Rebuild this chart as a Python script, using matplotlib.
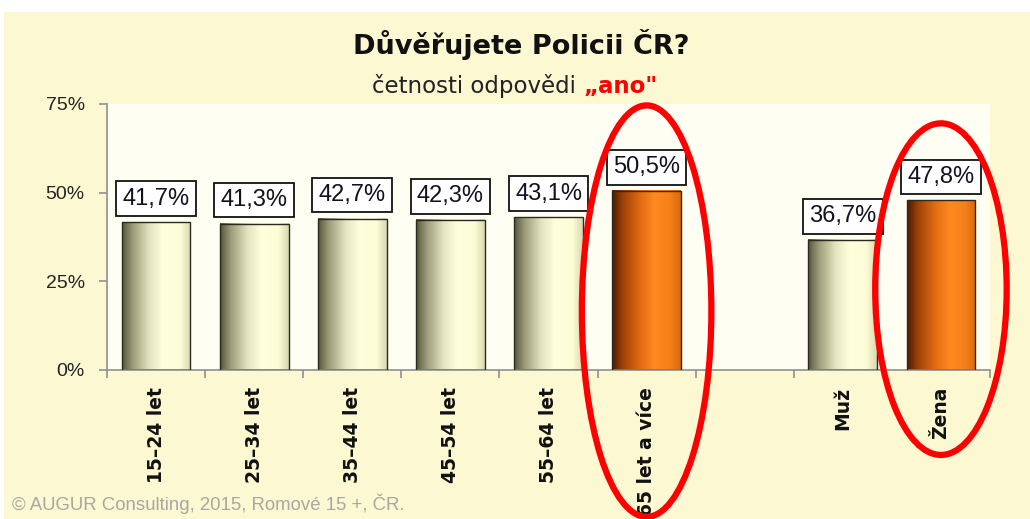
import matplotlib
matplotlib.use("Agg")
import matplotlib.pyplot as plt
import numpy as np
from matplotlib.patches import Rectangle, Ellipse
from matplotlib.colors import LinearSegmentedColormap

categories = ["15–24 let", "25–34 let", "35–44 let", "45–54 let", "55–64 let",
              "65 let a více", "Muž", "Žena"]
values = [41.7, 41.3, 42.7, 42.3, 43.1, 50.5, 36.7, 47.8]
positions = [0, 1, 2, 3, 4, 5, 7, 8]
highlight = [False, False, False, False, False, True, False, True]
labels = ["41,7%", "41,3%", "42,7%", "42,3%", "43,1%", "50,5%", "36,7%", "47,8%"]
yticks = [0, 25, 50, 75]

plt.rcParams["font.family"] = ["Liberation Sans", "DejaVu Sans"]

fig = plt.figure(figsize=(10.30, 5.19), dpi=100)
fig.patch.set_facecolor("white")
fig.patches.append(Rectangle((4 / 1030, 0), 1, (519 - 12) / 519, transform=fig.transFigure,
                             facecolor="#FCF8D2", edgecolor="none", zorder=-10))

ax = fig.add_axes([107 / 1030, (519 - 370) / 519, (990 - 107) / 1030, (370 - 104) / 519])
ax.set_facecolor("#FFFEF3")

light = LinearSegmentedColormap.from_list("light", [
    (0.0, "#55553c"), (0.15, "#9a9a78"), (0.4, "#e4e4be"), (0.6, "#ffffdc"),
    (0.85, "#fcfcd6"), (1.0, "#d8d8b0")])
orange = LinearSegmentedColormap.from_list("orange", [
    (0.0, "#4a1a00"), (0.15, "#9a4008"), (0.4, "#e06a10"), (0.62, "#ff8a22"),
    (0.85, "#f57f18"), (1.0, "#d86a10")])
grad = np.linspace(0, 1, 256).reshape(1, -1)

width = 0.7
bars = ax.bar(positions, values, width=width, facecolor="none", edgecolor="#2a2a20",
              linewidth=1.0, zorder=3)
for b, hl, lab in zip(bars, highlight, labels):
    x0 = b.get_x()
    h = b.get_height()
    ax.imshow(grad, extent=[x0, x0 + width, 0, h], aspect="auto",
              cmap=orange if hl else light, zorder=2, interpolation="bilinear")
    ax.annotate(lab, (x0 + width / 2, h), xytext=(0, 9), textcoords="offset points",
                ha="center", va="bottom", fontsize=17, color="#111122",
                bbox=dict(boxstyle="square,pad=0.27", facecolor="white",
                          edgecolor="#111111", linewidth=1.3), zorder=5)

ax.set_xlim(-0.5, 8.5)
ax.set_ylim(0, 75)
ax.set_yticks(yticks)
ax.set_yticklabels([f"{t}%" for t in yticks], fontsize=14, color="#222222")
ax.set_xticks(positions)
ax.set_xticklabels(categories, rotation=90, fontsize=13.5, fontweight="bold",
                   family=["DejaVu Sans"], color="#111111")
ax.set_xticks([-0.5, 0.5, 1.5, 2.5, 3.5, 4.5, 5.5, 6.5, 8.5], minor=True)
ax.tick_params(axis="x", which="major", length=0, pad=12)
ax.tick_params(axis="x", which="minor", length=6, color="#909090", width=1.2)
ax.tick_params(axis="y", length=6, color="#909090", width=1.2, pad=10)
for s in ["top", "right"]:
    ax.spines[s].set_visible(False)
for s in ["left", "bottom"]:
    ax.spines[s].set_color("#909090")
    ax.spines[s].set_linewidth(1.2)

# red ellipses around highlighted bars
ax.add_patch(Ellipse((positions[5], 16.6), 1.32, 116, fill=False, edgecolor="#FF0000",
                     linewidth=4.5, clip_on=False, zorder=6))
ax.add_patch(Ellipse((positions[7], 22.8), 1.34, 93.5, fill=False, edgecolor="#FF0000",
                     linewidth=4.5, clip_on=False, zorder=6))

fig.text(521 / 1030, (519 - 45) / 519, "Důvěřujete Policii ČR?", ha="center", va="center",
         fontsize=19.5, fontweight="bold", family=["DejaVu Sans"], color="#111111")
sub = fig.text(372 / 1030, (519 - 86) / 519, "četnosti odpovědi ", ha="left", va="center",
               fontsize=16.5, family=["DejaVu Sans"], color="#222222")
ax.annotate("„ano\"", xy=(1, 0.5), xycoords=sub, ha="left", va="center",
            fontsize=16.5, fontweight="bold", family=["DejaVu Sans"], color="#FF0000",
            annotation_clip=False)
fig.text(12 / 1030, (519 - 504) / 519, "© AUGUR Consulting, 2015, Romové 15 +, ČR.",
         ha="left", va="center", fontsize=13.4, color="#A8A8A0")

fig.savefig("out.png", dpi=100, facecolor=fig.get_facecolor())
